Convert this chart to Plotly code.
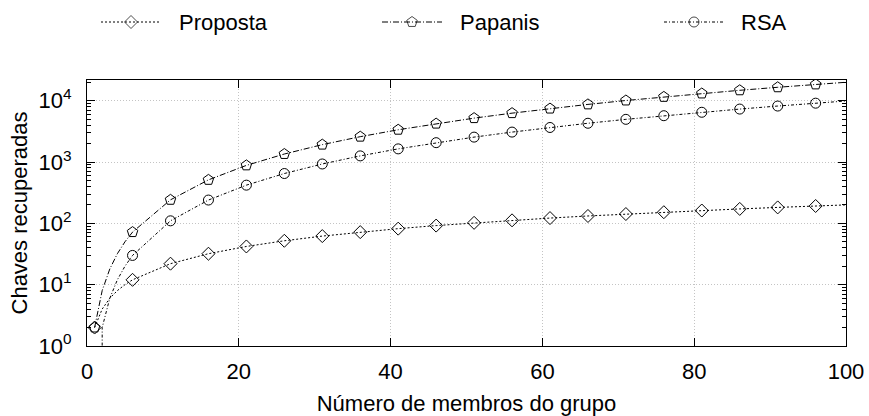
import plotly.graph_objects as go

# Group size at which each marker is placed
n_marks = [1, 6, 11, 16, 21, 26, 31, 36, 41, 46, 51, 56, 61, 66, 71, 76, 81, 86, 91, 96]

# Recovered keys per scheme at the marked group sizes
proposta = [2, 12, 22, 32, 42, 52, 62, 72, 82, 92, 102, 112, 122, 132, 142, 152, 162, 172, 182, 192]
papanis = [2, 72, 242, 512, 882, 1352, 1922, 2592, 3362, 4232, 5202, 6272, 7442, 8712,
           10082, 11552, 13122, 14792, 16562, 18432]
rsa = [0, 30, 110, 240, 420, 650, 930, 1260, 1640, 2070, 2550, 3080, 3660, 4290, 4970,
       5700, 6480, 7310, 8190, 9120]

# Extra points of the curves between the markers (small groups and the right end)
n_extra = [2, 3, 4, 5, 100]
proposta_extra = [4, 6, 8, 10, 200]
papanis_extra = [8, 18, 32, 50, 20000]
rsa_extra = [2, 6, 12, 20, 9900]

y_tick_vals = [1, 10, 100, 1000, 10000]
y_tick_text = ["10<sup>0</sup>", "10<sup>1</sup>", "10<sup>2</sup>", "10<sup>3</sup>", "10<sup>4</sup>"]
x_tick_vals = [0, 20, 40, 60, 80, 100]

FONT = "Liberation Sans, Arial, Helvetica, sans-serif"
FS = 22
GRID = "#c4c4c4"
GRID_DASH = "1px,2px"

series = [
    ("Proposta", proposta, proposta_extra, "diamond-open", 10, "2px,2px"),
    ("Papanis", papanis, papanis_extra, "pentagon-open", 11, "6px,2px,1px,2px"),
    ("RSA", rsa, rsa_extra, "circle-open", 10, "3px,2px,1px,2px"),
]


def merged(marks, extra):
    pts = sorted(zip(n_marks + n_extra, marks + extra))
    return [p[0] for p in pts], [p[1] for p in pts]


fig = go.Figure()

for name, vals, extra, sym, ms, dash in series:
    xs, ys = merged(vals, extra)
    fig.add_trace(go.Scatter(
        x=xs, y=ys, mode="lines", showlegend=False, hoverinfo="skip",
        line=dict(color="black", width=1, dash=dash),
    ))
    fig.add_trace(go.Scatter(
        x=n_marks, y=vals, mode="markers", name=name, showlegend=False,
        marker=dict(symbol=sym, size=ms, color="black", line=dict(width=1, color="black")),
    ))

# Key drawn on its own strip above the plot area (x2/y2 in pixel units)
key_pos = [(101, 161, 177), (382, 442, 458), (664, 724, 739)]
annotations = []
for (name, vals, extra, sym, ms, dash), (x0, x1, xt) in zip(series, key_pos):
    xm = (x0 + x1) / 2
    fig.add_trace(go.Scatter(
        x=[x0, xm, x1], y=[-22, -22, -22], xaxis="x2", yaxis="y2",
        mode="lines+markers", showlegend=False, hoverinfo="skip",
        line=dict(color="black", width=1, dash=dash),
        marker=dict(symbol=sym, size=[0, ms, 0], color="black",
                    line=dict(width=[0, 1, 0], color="black")),
    ))
    annotations.append(dict(
        x=xt, y=-22, xref="x2", yref="y2", text=name, showarrow=False,
        xanchor="left", yanchor="middle", font=dict(family=FONT, size=FS, color="black"),
    ))

H = 416
B = 70
paper_h = H - B
plot_top = 80
main_top = (paper_h - plot_top) / paper_h

minor_vals = [m * 10 ** d for d in range(0, 5) for m in range(2, 10)]

fig.update_layout(
    width=869, height=H,
    margin=dict(l=87, r=23, t=0, b=B),
    paper_bgcolor="white", plot_bgcolor="white",
    font=dict(family=FONT, size=FS, color="black"),
    showlegend=False,
    annotations=annotations,
    xaxis=dict(
        domain=[0, 1], range=[0, 100], tickmode="array", tickvals=x_tick_vals,
        ticks="inside", ticklen=8, tickcolor="black", mirror="ticks",
        showline=True, linecolor="black", linewidth=1,
        showgrid=True, gridcolor=GRID, griddash=GRID_DASH, gridwidth=1,
        zeroline=False, tickfont=dict(size=FS), ticklabelstandoff=6,
        title=dict(text="Número de membros do grupo", font=dict(size=FS), standoff=12),
    ),
    yaxis=dict(
        domain=[0, main_top], type="log", range=[0, 4.338],
        tickmode="array", tickvals=y_tick_vals, ticktext=y_tick_text,
        ticks="inside", ticklen=8, tickcolor="black", mirror="ticks",
        showline=True, linecolor="black", linewidth=1,
        showgrid=True, gridcolor=GRID, griddash=GRID_DASH, gridwidth=1,
        zeroline=False, tickfont=dict(size=FS), ticklabelstandoff=10,
        minor=dict(tickmode="array", tickvals=minor_vals, ticks="inside",
                   ticklen=4, tickcolor="black", showgrid=False),
        title=dict(text="Chaves recuperadas", font=dict(size=FS), standoff=4),
    ),
    xaxis2=dict(domain=[0, 1], range=[87, 846], anchor="y2", visible=False, fixedrange=True),
    yaxis2=dict(domain=[0.8, 1], range=[-0.2 * paper_h, 0], anchor="x2", visible=False,
                fixedrange=True),
)

fig.write_html("out.html")
